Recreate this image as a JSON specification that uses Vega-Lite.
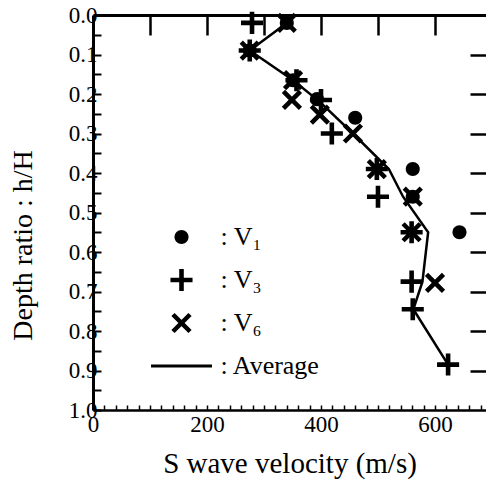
{
  "$schema": "https://vega.github.io/schema/vega-lite/v6.json",
  "width": 393,
  "height": 395,
  "autosize": "none",
  "padding": {"left": 93, "top": 15, "right": 0, "bottom": 72},
  "background": "white",
  "config": {"view": {"stroke": null}, "font": "Liberation Serif"},
  "datasets": {
    "avg": [
      {"velocity": 340, "depth": 0.02},
      {"velocity": 275, "depth": 0.09},
      {"velocity": 351, "depth": 0.165},
      {"velocity": 398, "depth": 0.22},
      {"velocity": 456, "depth": 0.30},
      {"velocity": 519, "depth": 0.39},
      {"velocity": 544, "depth": 0.46},
      {"velocity": 588, "depth": 0.55},
      {"velocity": 578, "depth": 0.675},
      {"velocity": 562, "depth": 0.745},
      {"velocity": 623, "depth": 0.885}
    ],
    "obs": [
      {"series": "V1", "velocity": 340, "depth": 0.02},
      {"series": "V1", "velocity": 275, "depth": 0.09},
      {"series": "V1", "velocity": 351, "depth": 0.165},
      {"series": "V1", "velocity": 393, "depth": 0.213},
      {"series": "V1", "velocity": 460, "depth": 0.26},
      {"series": "V1", "velocity": 561, "depth": 0.39},
      {"series": "V1", "velocity": 561, "depth": 0.46},
      {"series": "V1", "velocity": 643, "depth": 0.55},
      {"series": "V3", "velocity": 279, "depth": 0.02},
      {"series": "V3", "velocity": 275, "depth": 0.09},
      {"series": "V3", "velocity": 357, "depth": 0.165},
      {"series": "V3", "velocity": 400, "depth": 0.215},
      {"series": "V3", "velocity": 419, "depth": 0.30},
      {"series": "V3", "velocity": 498, "depth": 0.39},
      {"series": "V3", "velocity": 500, "depth": 0.46},
      {"series": "V3", "velocity": 559, "depth": 0.55},
      {"series": "V3", "velocity": 559, "depth": 0.675},
      {"series": "V3", "velocity": 561, "depth": 0.745},
      {"series": "V3", "velocity": 623, "depth": 0.885},
      {"series": "V6", "velocity": 340, "depth": 0.02},
      {"series": "V6", "velocity": 275, "depth": 0.09},
      {"series": "V6", "velocity": 351, "depth": 0.165},
      {"series": "V6", "velocity": 349, "depth": 0.215},
      {"series": "V6", "velocity": 398, "depth": 0.252},
      {"series": "V6", "velocity": 456, "depth": 0.30},
      {"series": "V6", "velocity": 498, "depth": 0.39},
      {"series": "V6", "velocity": 561, "depth": 0.46},
      {"series": "V6", "velocity": 559, "depth": 0.55},
      {"series": "V6", "velocity": 600, "depth": 0.678}
    ]
  },
  "layer": [
    {
      "data": {"name": "avg"},
      "mark": {"type": "line", "color": "black", "strokeWidth": 2.5},
      "encoding": {
        "x": {
          "field": "velocity", "type": "quantitative",
          "scale": {"domain": [0, 689.5], "nice": false, "zero": false},
          "axis": {
            "orient": "bottom", "zindex": 1,
            "title": "S wave velocity (m/s)",
            "titleFont": "Liberation Serif", "titleFontSize": 29, "titleFontWeight": "normal", "titleColor": "black",
            "titlePadding": 13,
            "values": [0,20,40,60,80,100,120,140,160,180,200,220,240,260,280,300,320,340,360,380,400,420,440,460,480,500,520,540,560,580,600,620,640,660,680],
            "labelExpr": "datum.value % 200 === 0 ? format(datum.value, 'd') : ''",
            "labelFont": "Liberation Serif", "labelFontSize": 23, "labelColor": "black",
            "labelPadding": 8, "labelFlush": false, "labelOverlap": false,
            "ticks": true,
            "tickSize": -5, "tickWidth": 1.5, "tickColor": "black",
            "domainColor": "black", "domainWidth": 2.5,
            "grid": false,
            "encode": {"ticks": {"update": {"y2": {"signal": "datum.value % 100 === 0 ? -9 : -5"}}}}
          }
        },
        "y": {
          "field": "depth", "type": "quantitative",
          "scale": {"domain": [0, 1], "reverse": true, "nice": false, "zero": false},
          "axis": {
            "orient": "left", "zindex": 1,
            "title": "Depth ratio : h/H",
            "titleFont": "Liberation Serif", "titleFontSize": 28, "titleFontWeight": "normal", "titleColor": "black",
            "titleX": -62, "titleY": 230, "titleAngle": -90, "titleAlign": "center", "titleBaseline": "alphabetic",
            "values": [0,0.05,0.1,0.15,0.2,0.25,0.3,0.35,0.4,0.45,0.5,0.55,0.6,0.65,0.7,0.75,0.8,0.85,0.9,0.95,1.0],
            "labelExpr": "abs(datum.value * 10 - round(datum.value * 10)) < 0.01 ? format(datum.value, '.1f') : ''",
            "labelFont": "Liberation Serif", "labelFontSize": 23, "labelColor": "black",
            "labelPadding": 4, "labelFlush": false, "labelOverlap": false,
            "ticks": true,
            "tickSize": -8, "tickWidth": 2, "tickColor": "black",
            "domainColor": "black", "domainWidth": 3,
            "grid": false
          }
        },
        "order": {"field": "depth", "type": "quantitative"}
      }
    },
    {
      "data": {"name": "obs"},
      "mark": {"type": "point", "filled": true, "size": 529, "color": "black", "strokeWidth": 0, "opacity": 1},
      "encoding": {
        "x": {
          "field": "velocity", "type": "quantitative",
          "axis": {
            "orient": "top", "zindex": 1, "title": null, "labels": false,
            "values": [100, 200, 300, 400, 500, 600],
            "ticks": true,
            "tickSize": -20, "tickWidth": 2.5, "tickColor": "black",
            "domainColor": "black", "domainWidth": 3,
            "grid": false
          }
        },
        "y": {
          "field": "depth", "type": "quantitative",
          "axis": {
            "orient": "right", "zindex": 1, "title": null, "labels": false, "domain": false,
            "values": [0.1, 0.2, 0.3, 0.4, 0.5, 0.6, 0.7, 0.8, 0.9],
            "ticks": true,
            "tickSize": -16, "tickWidth": 2.5, "tickColor": "black", "grid": false
          }
        },
        "shape": {
          "field": "series", "type": "nominal",
          "scale": {
            "domain": ["V1", "V3", "V6", "Average"],
            "range": [
              "M-0.61,0A0.61,0.61,0,1,0,0.61,0A0.61,0.61,0,1,0,-0.61,0Z",
              "M-0.96,-0.2H0.96V0.2H-0.96Z M-0.2,-0.96H0.2V0.96H-0.2Z",
              "M-0.6,-0.88L0.88,0.6L0.6,0.88L-0.88,-0.6Z M0.88,-0.6L-0.6,0.88L-0.88,0.6L0.6,-0.88Z",
              "M-2.65,-0.13H2.65V0.13H-2.65Z"
            ]
          },
          "legend": {
            "orient": "none", "legendX": 75.5, "legendY": 209,
            "title": null, "padding": 0,
            "symbolSize": 529, "symbolFillColor": "black", "symbolStrokeWidth": 0, "symbolStrokeColor": "black",
            "rowPadding": 17, "labelOffset": 26,
            "labelFont": "Liberation Serif", "labelFontSize": 26, "labelColor": "black",
            "labelExpr": "datum.label === 'V1' ? ': V₁' : datum.label === 'V3' ? ': V₃' : datum.label === 'V6' ? ': V₆' : ': Average'"
          }
        }
      }
    }
  ],
  "resolve": {"axis": {"x": "independent", "y": "independent"}}
}
